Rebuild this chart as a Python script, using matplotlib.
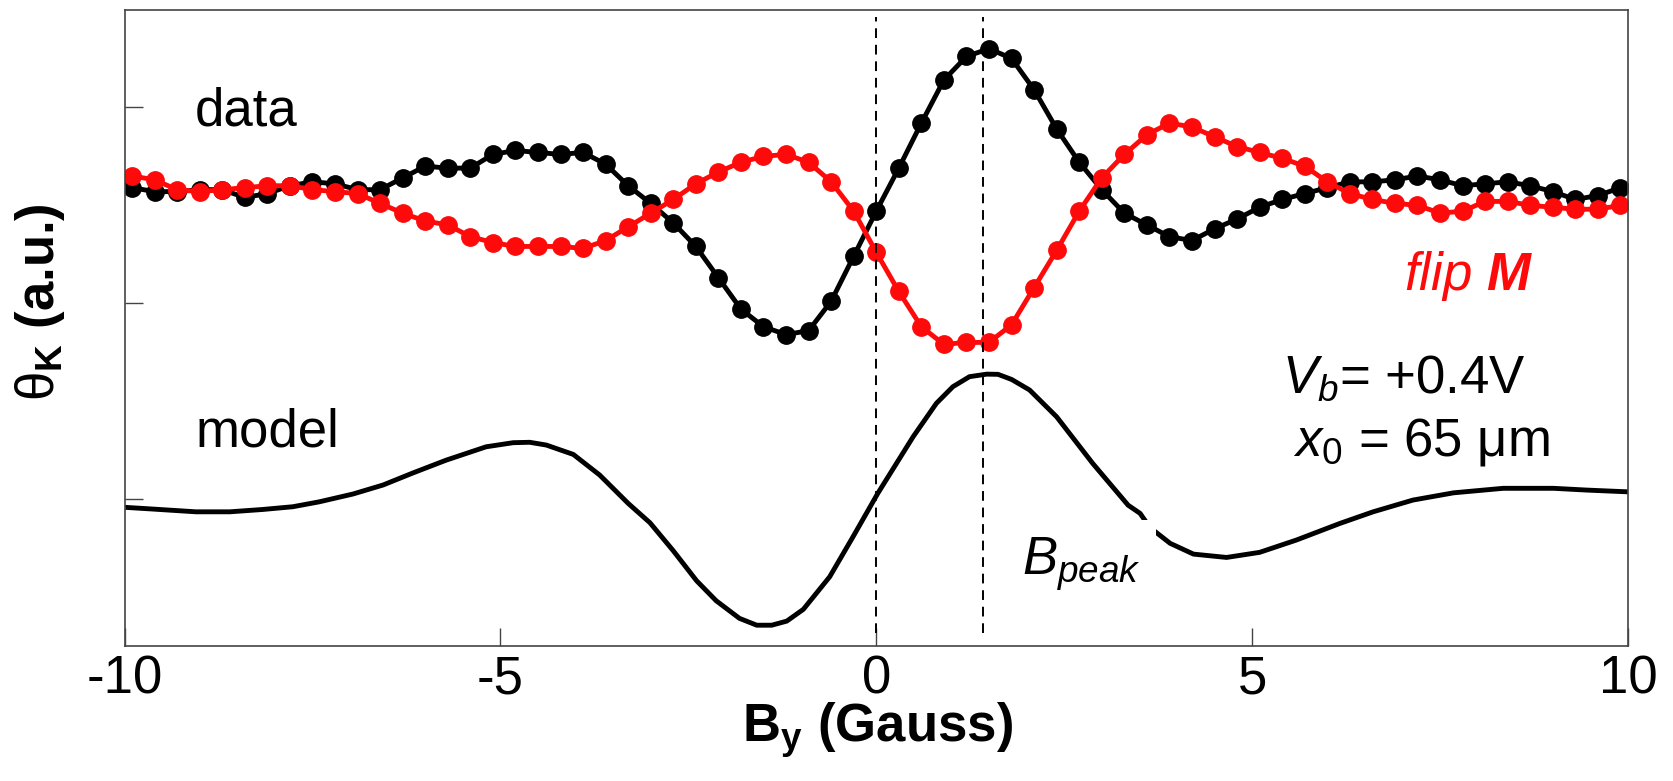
import matplotlib
matplotlib.use("Agg")
import matplotlib.pyplot as plt
import numpy as np

# field grid of the measured points (Gauss)
b_data = np.round(np.arange(-9.9, 9.95, 0.3), 2)

# Kerr signal, arbitrary units
kerr_data = [1.59, 1.57, 1.57, 1.58, 1.58, 1.54, 1.56, 1.60, 1.62, 1.61,
             1.58, 1.58, 1.64, 1.70, 1.69, 1.69, 1.76, 1.78, 1.77, 1.76,
             1.77, 1.71, 1.60, 1.51, 1.41, 1.29, 1.13, 0.97, 0.88, 0.84,
             0.86, 1.01, 1.24, 1.47, 1.69, 1.92, 2.14, 2.26, 2.30, 2.25,
             2.09, 1.89, 1.72, 1.58, 1.46, 1.40, 1.34, 1.32, 1.38, 1.43,
             1.49, 1.53, 1.56, 1.59, 1.62, 1.62, 1.63, 1.65, 1.63, 1.60,
             1.61, 1.62, 1.60, 1.57, 1.53, 1.55, 1.59]
kerr_flip = [1.65, 1.63, 1.58, 1.57, 1.58, 1.59, 1.60, 1.60, 1.58, 1.57,
             1.56, 1.51, 1.46, 1.42, 1.40, 1.34, 1.31, 1.29, 1.29, 1.29,
             1.28, 1.32, 1.39, 1.46, 1.53, 1.61, 1.67, 1.72, 1.75, 1.76,
             1.72, 1.62, 1.47, 1.26, 1.06, 0.88, 0.79, 0.80, 0.80, 0.89,
             1.08, 1.27, 1.47, 1.64, 1.76, 1.86, 1.92, 1.90, 1.85, 1.80,
             1.77, 1.74, 1.70, 1.62, 1.56, 1.53, 1.51, 1.50, 1.46, 1.47,
             1.52, 1.52, 1.50, 1.49, 1.48, 1.48, 1.50]

b_model = [-10.0, -9.62, -9.05, -8.60, -8.16, -7.76, -7.41, -6.96, -6.56, -6.16,
           -5.72, -5.19, -4.83, -4.61, -4.39, -4.03, -3.68, -3.30, -3.01, -2.70,
           -2.39, -2.13, -1.82, -1.59, -1.39, -1.19, -0.97, -0.62, -0.31, 0.02,
           0.49, 0.80, 1.02, 1.24, 1.47, 1.62, 1.80, 2.04, 2.40, 2.88,
           3.35, 3.51, 3.64, 3.91, 4.22, 4.66, 5.10, 5.59, 6.17, 6.61,
           7.14, 7.68, 8.34, 9.01, 9.45, 10.0]
kerr_model = [-0.042, -0.051, -0.065, -0.065, -0.053, -0.039, -0.014, 0.026, 0.072, 0.134,
              0.199, 0.267, 0.288, 0.290, 0.276, 0.228, 0.123, -0.022, -0.121, -0.264,
              -0.417, -0.519, -0.609, -0.644, -0.644, -0.623, -0.563, -0.397, -0.193, 0.029,
              0.318, 0.489, 0.574, 0.625, 0.638, 0.637, 0.611, 0.557, 0.420, 0.182,
              -0.031, -0.073, -0.145, -0.226, -0.281, -0.298, -0.272, -0.209, -0.124, -0.065,
              -0.005, 0.032, 0.055, 0.055, 0.046, 0.037]

b_peak = 1.42
xtick_pos = [-10, -5, 0, 5, 10]
xtick_labels = ["-10", "-5", "0", "5", "10"]

plt.rcParams['font.family'] = ['Liberation Sans', 'DejaVu Sans']
plt.rcParams['mathtext.fontset'] = 'custom'
plt.rcParams['mathtext.rm'] = 'Liberation Sans'
plt.rcParams['mathtext.it'] = 'Liberation Sans:italic'
plt.rcParams['mathtext.bf'] = 'Liberation Sans:bold'
plt.rcParams['mathtext.bfit'] = 'Liberation Sans:italic:bold'

fig = plt.figure(figsize=(16.74, 7.81), dpi=100)
ax = fig.add_axes([0.0744, 0.1729, 0.8981, 0.8137])

ax.plot(b_data, kerr_data, '-o', color='black', lw=3.5, ms=12.5)
ax.plot(b_data, kerr_flip, '-o', color='#ff0a0a', lw=3.5, ms=12.5)
ax.plot(b_model, kerr_model, '-', color='black', lw=3.5)

ax.axvline(0, ymin=0.02, ymax=0.99, color='black', lw=1.4, ls=(0, (5, 3.5)))
ax.axvline(b_peak, ymin=0.02, ymax=0.99, color='black', lw=1.4, ls=(0, (5, 3.5)))

ax.set_xlim(-10, 10)
ax.set_ylim(-0.75, 2.495)
ax.set_xticks(xtick_pos)
ax.set_xticklabels(xtick_labels)
ax.set_yticks([0, 1, 2])
ax.set_yticklabels([])
ax.tick_params(direction='in', length=13, width=1, color='#444444', labelsize=38, pad=6)
for s in ax.spines.values():
    s.set_color('#444444')
    s.set_linewidth(1.2)

ax.set_xlabel(r'$\mathbf{B_y}$ (Gauss)', fontsize=38, fontweight='bold')
ax.xaxis.set_label_coords(0.501, -0.085)
ax.set_ylabel(r'$\mathrm{\theta}_\mathbf{K}$ (a.u.)', fontsize=38, fontweight='bold')
ax.yaxis.set_label_coords(-0.038, 0.541)

ax.text(-9.07, 1.91, "data", fontsize=38, va='baseline')
ax.text(-9.05, 0.266, "model", fontsize=38, va='baseline')
ax.text(7.02, 1.067, r'$\mathit{flip}$ $\mathbfit{M}$', fontsize=38, color='#ff0a0a', va='baseline')
ax.text(5.40, 0.546, r'$V_b$= +0.4V', fontsize=38, va='baseline')
ax.text(5.54, 0.225, r'$x_{\mathit{0}}$ = 65 μm', fontsize=38, va='baseline')
ax.text(1.94, -0.388, r'$B_{peak}$', fontsize=38, va='baseline',
        bbox=dict(facecolor='white', edgecolor='none', pad=11))

plt.savefig('out.png', dpi=100)
